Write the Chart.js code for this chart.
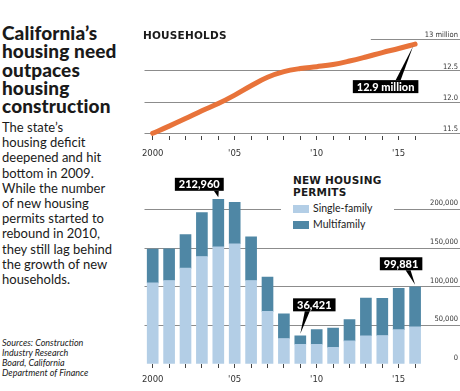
<!DOCTYPE html>
<html>
<head>
<meta charset="utf-8">
<script src="https://cdn.jsdelivr.net/npm/chart.js@4"></script>
<style>
  body { margin: 0; width: 460px; height: 391px; position: relative; background: #fff; overflow: hidden; color: #1a1a1a; font-family: Lato, sans-serif; }
  canvas { position: absolute; }
  #titel { position: absolute; left: 2px; top: 24px; font: 900 19px/18.3px Lato, sans-serif; letter-spacing: 0.1px; }
  #teks { position: absolute; left: 2px; top: 120px; font: 13px/15.2px Lato, sans-serif; }
  #sumber { position: absolute; left: 2px; top: 338px; font: italic 9px/10px Lato, sans-serif; }
  .judul { position: absolute; font: bold 10.5px/12px "DejaVu Sans", sans-serif; letter-spacing: 0.2px; }
  #legenda { position: absolute; left: 281px; top: 173px; width: 113px; height: 64px; background: #fff; }
  #legenda .judul { left: 12px; top: 1px; position: absolute; }
  .item { position: absolute; left: 12px; font: 10.5px Lato, sans-serif; white-space: nowrap; }
  .kotak { display: inline-block; width: 16px; height: 8px; vertical-align: -1px; margin-right: 4px; }
</style>
</head>
<body>
<div id="titel">California’s<br>housing need<br>outpaces<br>housing<br>construction</div>
<div id="teks">The state’s<br>housing deficit<br>deepened and hit<br>bottom in 2009.<br>While the number<br>of new housing<br>permits started to<br>rebound in 2010,<br>they still lag behind<br>the growth of new<br>households.</div>
<div id="sumber">Sources: Construction<br>Industry Research<br>Board, California<br>Department of Finance</div>

<canvas id="rumahTangga" width="320" height="145" style="left:140px;top:20px"></canvas>
<canvas id="izin" width="320" height="226" style="left:140px;top:165px"></canvas>
<div class="judul" style="left:143px;top:29px">HOUSEHOLDS</div>
<div id="legenda">
  <div class="judul">NEW HOUSING<br>PERMITS</div>
  <div class="item" style="top:29px"><span class="kotak" style="background:#b3cee6"></span>Single-family</div>
  <div class="item" style="top:45px"><span class="kotak" style="background:#4f87a5"></span>Multifamily</div>
</div>

<script>
// data
const tahun = ["2000","2001","2002","2003","2004","2005","2006","2007","2008","2009","2010","2011","2012","2013","2014","2015","2016"];
const labelTahun = ["2000","","","","","'05","","","","","'10","","","","","'15",""];

const rumahTangga = [11.50, 11.615, 11.735, 11.86, 11.975, 12.11, 12.26, 12.395, 12.485, 12.535, 12.565, 12.60, 12.655, 12.72, 12.79, 12.855, 12.925];
const tickRumahTangga = [11.5, 12, 12.5, 13];
const labelRumahTangga = ["11.5", "12.0", "12.5", "13 million"];

const singleFamily = [105000, 108000, 124000, 139000, 151500, 155500, 108000, 68000, 33000, 25500, 25500, 21500, 30000, 36500, 36800, 44500, 48000];
const multiFamily = [43500, 40800, 43500, 56700, 61460, 53500, 56300, 44300, 32000, 10921, 19000, 25100, 27500, 48900, 48200, 53500, 51881];
const tickIzin = [0, 50000, 100000, 150000, 200000];
const labelIzin = ["0", "50,000", "100,000", "150,000", "200,000"];

const calloutIzin = ["212,960", "36,421", "99,881"];
const calloutIndex = [4, 9, 16];
const calloutRumahTangga = "12.9 million";

const warnaGrid = "#8c8c8c";
const fontKotak = "900 11px Lato, sans-serif";

// kotak hitam dengan teks putih dan penunjuk
function gambarCallout(ctx, teks, tipX, tipY, cx, boxTop, kakiX) {
  ctx.save();
  ctx.font = fontKotak;
  const w = ctx.measureText(teks).width + 8;
  const h = 13;
  const left = cx - w / 2;
  ctx.fillStyle = "#000";
  ctx.fillRect(left, boxTop, w, h);
  const tepi = tipY > boxTop ? boxTop + h : boxTop;
  ctx.beginPath();
  ctx.moveTo(kakiX - 2.5, tepi);
  ctx.lineTo(kakiX + 2.5, tepi);
  ctx.lineTo(tipX, tipY);
  ctx.closePath();
  ctx.fill();
  ctx.fillStyle = "#fff";
  ctx.textAlign = "center";
  ctx.textBaseline = "middle";
  ctx.fillText(teks, cx, boxTop + h / 2 + 0.5);
  ctx.restore();
}

// padding otomatis dari label dimatikan supaya area grafik pas
function nolPadding(s) {
  s.paddingLeft = 0; s.paddingRight = 0; s.paddingTop = 0; s.paddingBottom = 0;
}

function skalaX(tinggi, jarak) {
  return {
    offset: true,
    border: { display: false },
    grid: { offset: false, drawOnChartArea: false, drawTicks: true, tickLength: 4, tickColor: "#444" },
    ticks: {
      autoSkip: false, maxRotation: 0, padding: jarak, color: "#333",
      font: { family: "DejaVu Sans", size: 8.5 },
      callback: (v, i) => labelTahun[i]
    },
    afterFit: s => { s.height = tinggi; nolPadding(s); }
  };
}

function skalaY(ticks, labels, min, max, geserLabel, sembunyi) {
  return {
    position: "right",
    min: min, max: max,
    border: { display: false },
    grid: {
      color: c => (sembunyi.includes(c.tick && c.tick.value) ? "rgba(0,0,0,0)" : warnaGrid),
      tickColor: c => (c.tick && c.tick.value === 0 ? "rgba(0,0,0,0)" : warnaGrid),
      tickLength: 37,
      lineWidth: 1
    },
    ticks: {
      mirror: true, padding: 34.7, labelOffset: geserLabel, color: "#333",
      font: { family: "DejaVu Sans Condensed", size: 7.5 },
      callback: (v) => labels[ticks.indexOf(v)]
    },
    afterBuildTicks: s => { s.ticks = ticks.map(v => ({ value: v })); },
    afterFit: s => { s.width = 36.7; nolPadding(s); }
  };
}

const pluginRumahTangga = {
  id: "rumahTanggaExtra",
  beforeDatasetsDraw(chart) {
    const { ctx, scales: { x, y } } = chart;
    const py = Math.round(y.getPixelForValue(13)) + 0.5;
    ctx.save();
    ctx.strokeStyle = warnaGrid;
    ctx.lineWidth = 1;
    ctx.beginPath();
    ctx.moveTo(x.getPixelForValue(13.3), py);
    ctx.lineTo(chart.chartArea.right, py);
    ctx.stroke();
    ctx.restore();
  },
  afterDatasetsDraw(chart) {
    const { ctx, scales: { x, y } } = chart;
    const i = rumahTangga.length - 1;
    const px = x.getPixelForValue(i);
    const py = y.getPixelForValue(rumahTangga[i]);
    gambarCallout(ctx, calloutRumahTangga, px - 2, py + 2, px - 29.5, py + 36, px - 17);
  }
};

const geserCallout = [
  { dx: -19, dy: -21.5, kaki: -2 },
  { dx: 14, dy: -37.5, kaki: 7 },
  { dx: -14, dy: -29.5, kaki: -7 }
];

const pluginIzin = {
  id: "izinExtra",
  afterDatasetsDraw(chart) {
    const { ctx, scales: { x, y } } = chart;
    calloutIndex.forEach((idx, k) => {
      const total = singleFamily[idx] + multiFamily[idx];
      const px = x.getPixelForValue(idx);
      const py = y.getPixelForValue(total);
      const g = geserCallout[k];
      gambarCallout(ctx, calloutIzin[k], px, py - 2, px + g.dx, py + g.dy, px + g.kaki);
    });
  }
};

new Chart(document.getElementById("rumahTangga").getContext("2d"), {
  type: "line",
  data: {
    labels: tahun,
    datasets: [{
      label: "Households",
      data: rumahTangga,
      borderColor: "#e8733a",
      borderWidth: 5,
      borderCapStyle: "round",
      tension: 0.4,
      pointRadius: 0,
      clip: false
    }]
  },
  options: {
    responsive: false,
    animation: false,
    layout: { padding: { left: 4.5, top: 17, right: 0, bottom: 0 } },
    plugins: { legend: { display: false }, tooltip: { enabled: false } },
    scales: {
      x: skalaX(29, 9),
      y: skalaY(tickRumahTangga, labelRumahTangga, 11.457, 13.039, -4, [13])
    }
  },
  plugins: [pluginRumahTangga]
});

new Chart(document.getElementById("izin").getContext("2d"), {
  type: "bar",
  data: {
    labels: tahun,
    datasets: [
      { label: "Single-family", data: singleFamily, backgroundColor: "#b3cee6", barThickness: 11 },
      { label: "Multifamily", data: multiFamily, backgroundColor: "#4f87a5", barThickness: 11 }
    ]
  },
  options: {
    responsive: false,
    animation: false,
    layout: { padding: { left: 4.5, top: 25, right: 0, bottom: 0 } },
    plugins: { legend: { display: false }, tooltip: { enabled: false } },
    scales: {
      x: Object.assign(skalaX(27, 6.5), { stacked: true }),
      y: Object.assign(skalaY(tickIzin, labelIzin, 0, 225000, -6, [0]), { stacked: true })
    }
  },
  plugins: [pluginIzin]
});
</script>
</body>
</html>
